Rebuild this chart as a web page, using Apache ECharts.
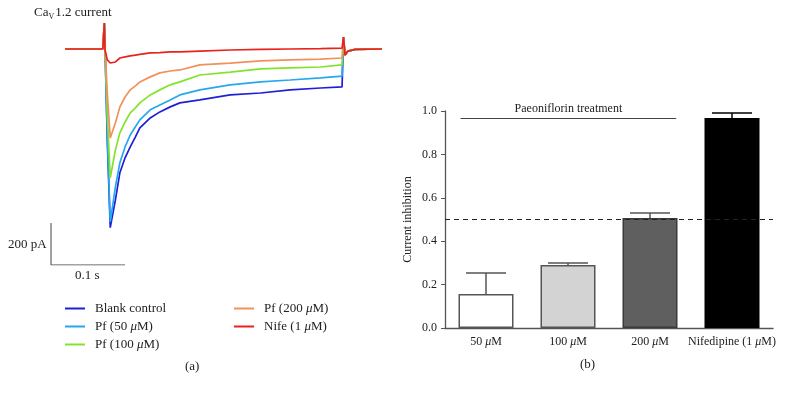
<!DOCTYPE html>
<html>
<head>
<meta charset="utf-8">
<script src="https://cdn.jsdelivr.net/npm/echarts@6.0.0/dist/echarts.min.js"></script>
<style>
  html, body { margin: 0; background: #fff; }
  #chart { width: 786px; height: 394px; }
</style>
</head>
<body>
<div id="chart"></div>
<script>
// (a) Cav1.2 current traces, time in ms, current in pA
const timeMs = [0, 51, 53, 54, 57, 61, 68, 74, 81, 88, 95, 101, 115, 128, 142, 155, 182, 223, 264, 304, 345, 374, 376, 378, 382, 392, 428]
const blankControl = [0, 0, 124, 0, -433, -852, -719, -590, -519, -467, -419, -376, -329, -300, -276, -257, -243, -219, -210, -195, -186, -181, 57, -29, -10, -2, 0]
const pf50 = [0, 0, 124, 0, -410, -824, -657, -543, -467, -410, -371, -338, -290, -267, -243, -219, -195, -171, -157, -148, -138, -129, 57, -29, -10, -2, 0]
const pf100 = [0, 0, 124, 0, -305, -614, -481, -400, -348, -305, -281, -257, -219, -195, -171, -157, -124, -110, -95, -90, -86, -76, 57, -29, -10, -2, 0]
const pf200 = [0, 0, 124, 0, -210, -424, -352, -276, -229, -195, -176, -157, -133, -114, -105, -100, -76, -67, -57, -52, -48, -43, 57, -29, -10, -2, 0]
const nife1 = [0, 0, 124, -5, -52, -67, -62, -43, -38, -33, -29, -26, -19, -17, -14, -14, -10, -5, -2, 0, 2, 4, 57, -29, -10, -2, 0]
const traceNames = ['Blank control', 'Pf (50 μM)', 'Pf (100 μM)', 'Pf (200 μM)', 'Nife (1 μM)']
const traces = [blankControl, pf50, pf100, pf200, nife1]

// scale bar: 200 pA up, 0.1 s across
const scaleTime = [-19, -19, 81]
const scaleCurrent = [-830, -1030, -1030]

// (b) inhibition of the current
const doses = ['50 μM', '100 μM', '200 μM', 'Nifedipine (1 μM)']
const inhibition = [0.157, 0.29, 0.507, 0.968]
const inhibitionErr = [0.097, 0.01, 0.023, 0.023]
const treatmentFrom = 0.19
const treatmentTo = 2.82
const treatmentLevel = 0.968
const halfLevel = 0.5

const traceColors = ['#1f1fd6', '#25a9ee', '#84e22c', '#f2905a', '#e8231c']
const barColors = ['#ffffff', '#d3d3d3', '#5f5f5f', '#000000']
const barBorders = ['#555555', '#555555', '#3a3a3a', '#000000']
const serif = '"Liberation Serif", "DejaVu Serif", serif'

const mu = s => s.replace('μ', '{i|μ}')
const richText = size => ({
  i: { fontStyle: 'italic', fontFamily: serif, fontSize: size, color: '#222' }
})

const chart = echarts.init(document.getElementById('chart'))

const traceSeries = traces.map((vals, k) => ({
  name: traceNames[k],
  type: 'line',
  xAxisIndex: 0,
  yAxisIndex: 0,
  data: timeMs.map((t, i) => [t, vals[i]]),
  showSymbol: false,
  silent: true,
  color: traceColors[k],
  lineStyle: { width: 1.7, color: traceColors[k] },
  z: 2 + k
}))

const legendBase = {
  orient: 'vertical',
  top: 297,
  itemWidth: 20,
  itemHeight: 2,
  itemGap: 5,
  icon: 'rect',
  formatter: mu,
  textStyle: {
    fontFamily: serif,
    fontSize: 13,
    color: '#222',
    padding: [0, 0, 0, 5],
    rich: richText(13)
  }
}

const option = {
  animation: false,
  title: {
    text: '{a|Ca}{s|V}{a|1.2 current}',
    left: 34,
    top: 5,
    padding: 0,
    textStyle: {
      fontWeight: 'normal',
      rich: {
        a: { fontFamily: serif, fontSize: 13, fontWeight: 'normal', color: '#222', lineHeight: 16 },
        s: { fontFamily: serif, fontSize: 8, fontWeight: 'normal', color: '#222', lineHeight: 16, padding: [7, 1, 0, 0] }
      }
    }
  },
  legend: [
    Object.assign({ left: 60, data: traceNames.slice(0, 3) }, legendBase),
    Object.assign({ left: 229, data: traceNames.slice(3) }, legendBase)
  ],
  grid: [
    { left: 51, top: 15, width: 334, height: 250 },
    { left: 445, top: 111, right: 13, height: 217 }
  ],
  xAxis: [
    { gridIndex: 0, type: 'value', min: -19, max: 432, show: false },
    {
      gridIndex: 1,
      type: 'category',
      data: doses,
      axisLine: { lineStyle: { color: '#555', width: 1.3 } },
      axisTick: { alignWithLabel: true, length: 4, lineStyle: { color: '#555' } },
      axisLabel: {
        interval: 0,
        margin: 8,
        fontFamily: serif,
        fontSize: 12,
        color: '#222',
        formatter: mu,
        rich: richText(12)
      }
    },
    { gridIndex: 1, type: 'value', min: 0, max: 4, show: false }
  ],
  yAxis: [
    { gridIndex: 0, type: 'value', min: -1030, max: 162, show: false },
    {
      gridIndex: 1,
      type: 'value',
      min: 0,
      max: 1,
      interval: 0.2,
      name: 'Current inhibition',
      nameLocation: 'middle',
      nameGap: 31,
      nameTextStyle: { fontFamily: serif, fontSize: 12, color: '#222' },
      axisLine: { show: true, lineStyle: { color: '#555', width: 1.3 } },
      axisTick: { show: true, length: 4, lineStyle: { color: '#555' } },
      axisLabel: {
        fontFamily: serif,
        fontSize: 12,
        color: '#222',
        formatter: v => v.toFixed(1)
      },
      splitLine: { show: false }
    }
  ],
  series: [
    {
      name: 'scale',
      type: 'line',
      xAxisIndex: 0,
      yAxisIndex: 0,
      data: scaleTime.map((t, i) => [t, scaleCurrent[i]]),
      showSymbol: false,
      silent: true,
      lineStyle: { color: '#444', width: 1 }
    },
    ...traceSeries,
    {
      name: 'inhibition',
      type: 'bar',
      xAxisIndex: 1,
      yAxisIndex: 1,
      barWidth: 55,
      data: inhibition.map((v, i) => ({
        value: v,
        itemStyle: { color: barColors[i], borderColor: barBorders[i], borderWidth: 1.5 }
      })),
      markLine: {
        silent: true,
        symbol: 'none',
        label: { show: false },
        lineStyle: { color: '#222', type: [5, 4], width: 1 },
        data: [{ yAxis: halfLevel }]
      },
      z: 2
    },
    {
      name: 'error',
      type: 'custom',
      xAxisIndex: 1,
      yAxisIndex: 1,
      data: inhibition.map((v, i) => [i, v, inhibitionErr[i]]),
      encode: { x: 0, y: 1 },
      renderItem: (params, api) => {
        const idx = api.value(0)
        const v = api.value(1)
        const e = api.value(2)
        const base = api.coord([idx, v])
        const top = api.coord([idx, v + e])
        const color = idx === 3 ? '#000' : '#555'
        const style = { stroke: color, lineWidth: 1.5 }
        return {
          type: 'group',
          children: [
            { type: 'line', shape: { x1: base[0], y1: base[1], x2: top[0], y2: top[1] }, style },
            { type: 'line', shape: { x1: top[0] - 20, y1: top[1], x2: top[0] + 20, y2: top[1] }, style }
          ]
        }
      },
      z: 3
    },
    {
      name: 'treatment',
      type: 'line',
      xAxisIndex: 2,
      yAxisIndex: 1,
      data: [],
      markLine: {
        silent: true,
        symbol: 'none',
        lineStyle: { color: '#444', type: 'solid', width: 1.2 },
        label: {
          show: true,
          position: 'middle',
          formatter: 'Paeoniflorin treatment',
          fontFamily: serif,
          fontSize: 12,
          color: '#222',
          distance: 3
        },
        data: [[
          { coord: [treatmentFrom, treatmentLevel] },
          { coord: [treatmentTo, treatmentLevel] }
        ]]
      }
    }
  ],
  graphic: [
    { type: 'text', left: 8, top: 238, style: { text: '200 pA', font: '13px ' + serif, fill: '#222' } },
    { type: 'text', left: 75, top: 269, style: { text: '0.1 s', font: '13px ' + serif, fill: '#222' } },
    { type: 'text', left: 185, top: 360, style: { text: '(a)', font: '13px ' + serif, fill: '#222' } },
    { type: 'text', left: 580, top: 358, style: { text: '(b)', font: '13px ' + serif, fill: '#222' } }
  ]
}

chart.setOption(option)
</script>
</body>
</html>
